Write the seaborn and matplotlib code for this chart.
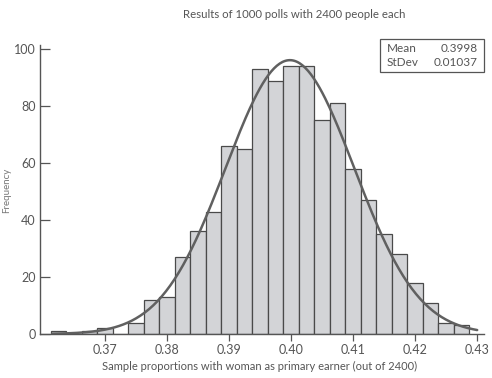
import numpy as np
import pandas as pd
import matplotlib
matplotlib.use("Agg")
import matplotlib.pyplot as plt
import seaborn as sns

# bin centres (sample proportion) and counts
bin_centers = [0.3625, 0.3675, 0.37, 0.375, 0.3775, 0.38, 0.3825, 0.385, 0.3875,
               0.39, 0.3925, 0.395, 0.3975, 0.40, 0.4025, 0.405, 0.4075, 0.41,
               0.4125, 0.415, 0.4175, 0.42, 0.4225, 0.425, 0.4275]
counts = [1, 1, 2, 4, 12, 13, 27, 36, 43, 66, 65, 93, 89, 94, 94, 75, 81, 58,
          47, 35, 28, 18, 11, 4, 3]
x_ticks = [0.37, 0.38, 0.39, 0.40, 0.41, 0.42, 0.43]
y_ticks = [0, 20, 40, 60, 80, 100]

mean = 0.3998
sd = 0.01037
n_polls = 1000
bin_w = 0.0025

df = pd.DataFrame({"prop": bin_centers, "count": counts})

sns.set_style("white")
plt.rcParams["font.family"] = ["Lato", "DejaVu Sans"]
txt = "#555555"

fig = plt.figure(figsize=(4.92, 3.78), dpi=100)
ax = fig.add_axes([40 / 492, 1 - 334 / 378, 444 / 492, 289 / 378])

sns.histplot(data=df, x="prop", weights="count", binwidth=bin_w,
             binrange=(0.36125, 0.42875), color="#d3d4d7", edgecolor="#4a4a4a",
             linewidth=0.9, alpha=1, ax=ax)

# fitted normal curve from the stated mean / sd
xs = np.linspace(0.3615, 0.4300, 300)
ys = n_polls * bin_w / (sd * np.sqrt(2 * np.pi)) * np.exp(-0.5 * ((xs - mean) / sd) ** 2)
sns.lineplot(x=xs, y=ys, color="#606060", linewidth=1.8, ax=ax)

ax.set_xlim(0.3595, 0.4311)
ax.set_ylim(0, 101.5)
ax.set_xticks(x_ticks)
ax.set_xticklabels([f"{t:.2f}" for t in x_ticks])
ax.set_yticks(y_ticks)
ax.tick_params(axis="x", direction="out", length=5, width=0.9, color=txt,
               labelsize=9, labelcolor=txt, pad=2)
ax.tick_params(axis="y", direction="in", length=7, width=0.9, color=txt,
               labelsize=9, labelcolor=txt, pad=3)
ax.tick_params(bottom=True, left=True)
sns.despine(ax=ax)
for s in ["left", "bottom"]:
    ax.spines[s].set_color(txt)
    ax.spines[s].set_linewidth(1.0)

ax.set_xlabel("")
ax.set_ylabel("")
fig.text(260 / 492, 1 - 366 / 378, "Sample proportions with woman as primary earner (out of 2400)",
         ha="center", va="center", fontsize=8, color=txt)
fig.text(7 / 492, 1 - 190 / 378, "Frequency", rotation=90, ha="center", va="center",
         fontsize=7, color="#777777")
fig.text(294 / 492, 1 - 14 / 378, "Results of 1000 polls with 2400 people each",
         ha="center", va="center", fontsize=8.2, color=txt)

# stats box
box = plt.Rectangle((380 / 492, 1 - 72 / 378), 104 / 492, 33 / 378, transform=fig.transFigure,
                    fill=False, edgecolor=txt, linewidth=0.9)
fig.add_artist(box)
fig.text(387 / 492, 1 - 49 / 378, "Mean", ha="left", va="center", fontsize=8.5, color=txt)
fig.text(387 / 492, 1 - 62 / 378, "StDev", ha="left", va="center", fontsize=8.5, color=txt)
fig.text(478 / 492, 1 - 49 / 378, f"{mean}", ha="right", va="center", fontsize=8.5, color=txt)
fig.text(478 / 492, 1 - 62 / 378, f"{sd}", ha="right", va="center", fontsize=8.5, color=txt)

fig.savefig("out.png", dpi=100)
